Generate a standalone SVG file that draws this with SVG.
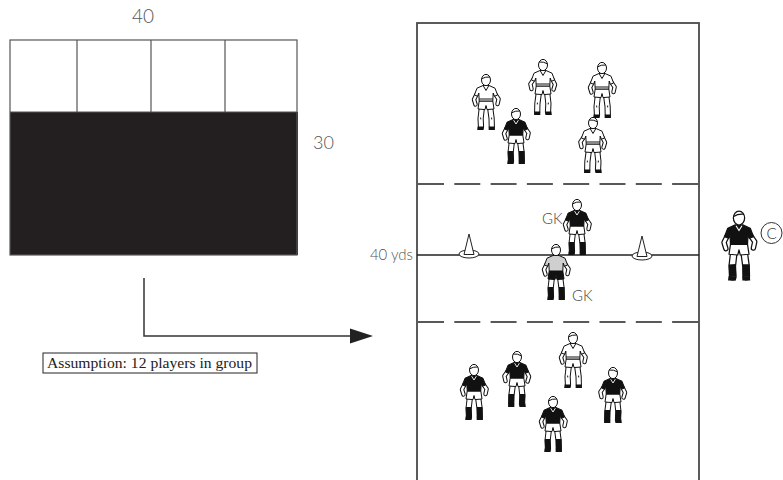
<svg xmlns="http://www.w3.org/2000/svg" width="783" height="480" viewBox="0 0 783 480">
<style>
  .lbl{font-family:Lato,"Open Sans","DejaVu Sans",sans-serif;font-weight:300;fill:#555}
  .ink{stroke:#111;stroke-width:1;stroke-linejoin:round}
  .limb-o{fill:none;stroke:#111;stroke-linecap:round;stroke-linejoin:round}
  .limb-i{fill:none;stroke:#fff;stroke-linecap:round;stroke-linejoin:round}
  .sock{fill:none;stroke:#111;stroke-width:5.6;stroke-linecap:butt}
  .grid{fill:none;stroke:#555;stroke-width:1.2}
  .pitch{fill:none;stroke:#4a4a4a;stroke-width:1.8}
  .mark{fill:none;stroke:#222;stroke-width:1.4}
  .dash{fill:none;stroke:#222;stroke-width:1.4;stroke-dasharray:26 10.3}
  .cone{fill:#fff;stroke:#222;stroke-width:1}
  .conn{fill:none;stroke:#333;stroke-width:1.5}
</style>
<defs>
  <marker id="arrowhead" markerWidth="23" markerHeight="16" refX="0" refY="8" orient="auto" markerUnits="userSpaceOnUse">
    <path d="M0,0.5 L23,8 L0,15.5 Z" fill="#222"/>
  </marker>

  <!-- shared limbs: arms and legs drawn as outlined strokes -->
  <g id="limbs">
    <path class="limb-o" stroke-width="4.4" d="M-9.5,14.5 L-12,19.5 L-10.5,24.5 M9.5,14.5 L12.6,19 L11.5,24"/>
    <path class="limb-i" stroke-width="2.4" d="M-9.5,14.5 L-12,19.5 L-10.5,24.5 M9.5,14.5 L12.6,19 L11.5,24"/>
    <path class="limb-o" stroke-width="6.2" d="M-4.2,28 L-5.4,38.5 L-5,47 M4.2,28 L5.6,38.5 L5.8,47"/>
    <path class="limb-i" stroke-width="4.2" d="M-4.2,28 L-5.4,38.5 L-5,47 M4.2,28 L5.6,38.5 L5.8,47"/>
    <path d="M-8.4,46.5 L-2.4,46.5 L-2.4,50 L-8.8,50 Z M2.8,46.5 L8.6,46.5 L9,50 L2.6,50 Z" fill="#111"/>
  </g>
  <path id="shirt-shape" d="M-3,5.5 L3,5.5 L9,8.2 L11.6,15 L8.4,16.2 L7.2,13 L6.8,21 L-6.8,21 L-7.2,13 L-8.4,16.2 L-11.6,15 L-9,8.2 Z"/>
  <path id="shorts-shape" d="M-6.8,21 L6.8,21 L8,29 L1,29.6 L0,25.5 L-1,29.6 L-8,29 Z"/>
  <g id="head">
    <ellipse class="ink" fill="#fff" cx="0" cy="0" rx="4.5" ry="5.6"/>
    <path class="ink" fill="none" d="M-4.3,-1.2 Q-1,-3.4 3.9,-3"/>
  </g>

  <!-- outfield player, white kit -->
  <g id="player-light">
    <use href="#limbs"/>
    <path class="ink" fill="none" d="M-5.4,37.6 L-5.2,39.4 M5.6,37.6 L5.7,39.4"/>
    <use href="#shorts-shape" class="ink" fill="#fff"/>
    <use href="#shirt-shape" class="ink" fill="#fff"/>
    <path class="ink" fill="none" d="M-2.6,6 L0,10.5 L2.6,6 M-6.8,19 L6.8,19"/>
    <use href="#head"/>
  </g>

  <!-- outfield player, dark kit -->
  <g id="player-dark">
    <use href="#limbs"/>
    <path class="sock" d="M-5.4,37 L-5,47 M5.6,37 L5.8,47"/>
    <use href="#shorts-shape" class="ink" fill="#fff"/>
    <use href="#shirt-shape" class="ink" fill="#111"/>
    <path fill="none" stroke="#fff" stroke-width="0.9" d="M-2.4,6.2 L0,10 L2.4,6.2"/>
    <use href="#head"/>
  </g>

  <!-- goalkeeper, grey jersey -->
  <g id="keeper-grey">
    <use href="#limbs"/>
    <path class="sock" d="M-5.4,37 L-5,47 M5.6,37 L5.8,47"/>
    <use href="#shorts-shape" class="ink" fill="#111"/>
    <use href="#shirt-shape" class="ink" fill="#cfcfcf"/>
    <use href="#head"/>
  </g>

  <g id="cone-shape">
    <ellipse class="cone" cx="0" cy="0" rx="10" ry="4"/>
    <path class="cone" d="M-5,0.5 L0,-20 L5,0.5 Z"/>
  </g>
</defs>

<!-- 40 x 30 plan with four top cells -->
<g id="plan-grid">
  <rect x="10" y="112" width="288" height="143" fill="#231f20"/>
  <rect class="grid" x="10" y="40" width="287" height="215"/>
  <path class="grid" d="M77,40 V112 M151,40 V112 M225,40 V112 M10,112 H297"/>
</g>
<g id="plan-labels">
  <text class="lbl" x="143" y="23" font-size="19" text-anchor="middle">40</text>
  <text class="lbl" x="313" y="149" font-size="18">30</text>
</g>

<!-- pitch -->
<g id="pitch">
  <rect class="pitch" x="417" y="23" width="282" height="470"/>
  <line class="dash" x1="418" y1="184" x2="699" y2="184"/>
  <line class="dash" x1="418" y1="322" x2="699" y2="322"/>
  <line class="mark" x1="417" y1="255" x2="699" y2="255"/>
  <text class="lbl" x="413" y="260" font-size="15" text-anchor="end">40 yds</text>
</g>

<g id="cone-left"><use href="#cone-shape" x="469" y="254"/></g>
<g id="cone-right"><use href="#cone-shape" x="642" y="256"/></g>

<!-- upper group -->
<g id="player-u1"><use href="#player-light" transform="translate(486,80)"/></g>
<g id="player-u2"><use href="#player-light" transform="translate(543,65) scale(-1,1)"/></g>
<g id="player-u3"><use href="#player-light" transform="translate(602,68)"/></g>
<g id="player-u4"><use href="#player-dark" transform="translate(516,114)"/></g>
<g id="player-u5"><use href="#player-light" transform="translate(593,123) scale(-1,1)"/></g>

<!-- goalkeepers -->
<g id="keeper-top">
  <use href="#player-dark" transform="translate(577,205)"/>
  <text class="lbl" x="542" y="224" font-size="15" style="fill:#444">GK</text>
</g>
<g id="keeper-bottom">
  <use href="#keeper-grey" transform="translate(556,250)"/>
  <text class="lbl" x="572" y="301" font-size="15" style="fill:#444">GK</text>
</g>

<!-- lower group -->
<g id="player-l1"><use href="#player-dark" transform="translate(474,370)"/></g>
<g id="player-l2"><use href="#player-dark" transform="translate(517,357) scale(-1,1)"/></g>
<g id="player-l3"><use href="#player-light" transform="translate(573,338)"/></g>
<g id="player-l4"><use href="#player-dark" transform="translate(613,373) scale(-1,1)"/></g>
<g id="player-l5"><use href="#player-dark" transform="translate(553,402)"/></g>

<!-- coach -->
<g id="coach">
  <use href="#player-dark" transform="translate(739,218) scale(1.25)"/>
  <circle cx="771.5" cy="233" r="10.5" fill="none" stroke="#333" stroke-width="1"/>
  <text x="771.5" y="238.5" font-size="15" text-anchor="middle" font-family="Lato,'Open Sans',sans-serif" font-weight="300" fill="#333">C</text>
</g>

<!-- note -->
<g id="note">
  <rect x="43" y="353" width="214" height="20" fill="#fff" stroke="#222" stroke-width="1"/>
  <text x="47" y="367.5" font-size="15" textLength="205" lengthAdjust="spacingAndGlyphs" font-family="'Liberation Serif',serif" fill="#222">Assumption: 12 players in group</text>
</g>

<!-- connectors -->
<g id="connectors">
  <path class="conn" d="M144,278 V336 H350" marker-end="url(#arrowhead)"/>
</g>
</svg>
